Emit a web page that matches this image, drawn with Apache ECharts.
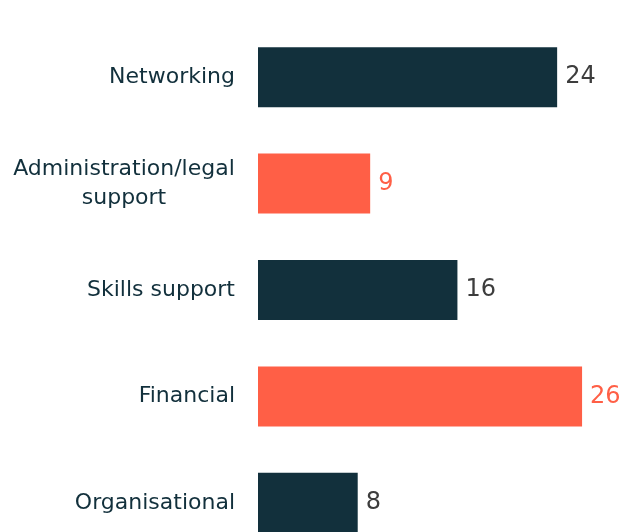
<!DOCTYPE html>
<html>
<head>
<meta charset="utf-8">
<script src="https://cdn.jsdelivr.net/npm/echarts@6/dist/echarts.min.js"></script>
<style>
  html, body { margin: 0; padding: 0; background: #fff; }
  #chart { width: 620px; height: 532px; }
</style>
</head>
<body>
<div id="chart"></div>
<script>
const categories = ['Networking', 'Administration/legal\nsupport', 'Skills support', 'Financial', 'Organisational'];
const values = [24, 9, 16, 26, 8];
const highlight = [false, true, false, true, false];

const DARK = '#12303c';
const CORAL = '#ff5f46';
const FONT = 'DejaVu Sans';
const CAT_SIZE = 22;

const chart = echarts.init(document.getElementById('chart'));

// width of the widest line, so a two-line label can centre its lines but stay right-aligned
const ctx = document.createElement('canvas').getContext('2d');
ctx.font = CAT_SIZE + 'px "' + FONT + '"';
const catData = categories.map(c => {
    if (c.indexOf('\n') < 0) return c;
    const w = Math.max(...c.split('\n').map(s => ctx.measureText(s).width));
    return { value: c, textStyle: { align: 'center', padding: [0, Math.round(w), 0, 0] } };
});

const data = values.map((v, i) => ({
    value: v,
    itemStyle: { color: highlight[i] ? CORAL : DARK },
    label: { color: highlight[i] ? CORAL : '#3d3d3d' }
}));

chart.setOption({
    animation: false,
    grid: { left: 258, top: 24, width: 349, height: 532, outerBoundsMode: 'none', containLabel: false },
    xAxis: {
        type: 'value', min: 0, max: 28,
        show: false
    },
    yAxis: {
        type: 'category',
        data: catData,
        inverse: true,
        axisLine: { show: false },
        axisTick: { show: false },
        axisLabel: {
            margin: 23,
            color: DARK,
            fontFamily: FONT,
            fontSize: CAT_SIZE,
            lineHeight: 29,
            align: 'right'
        }
    },
    series: [{
        type: 'bar',
        data: data,
        barWidth: 60,
        label: {
            show: true,
            position: 'right',
            distance: 8,
            fontFamily: FONT,
            fontSize: 24
        }
    }]
});
</script>
</body>
</html>
